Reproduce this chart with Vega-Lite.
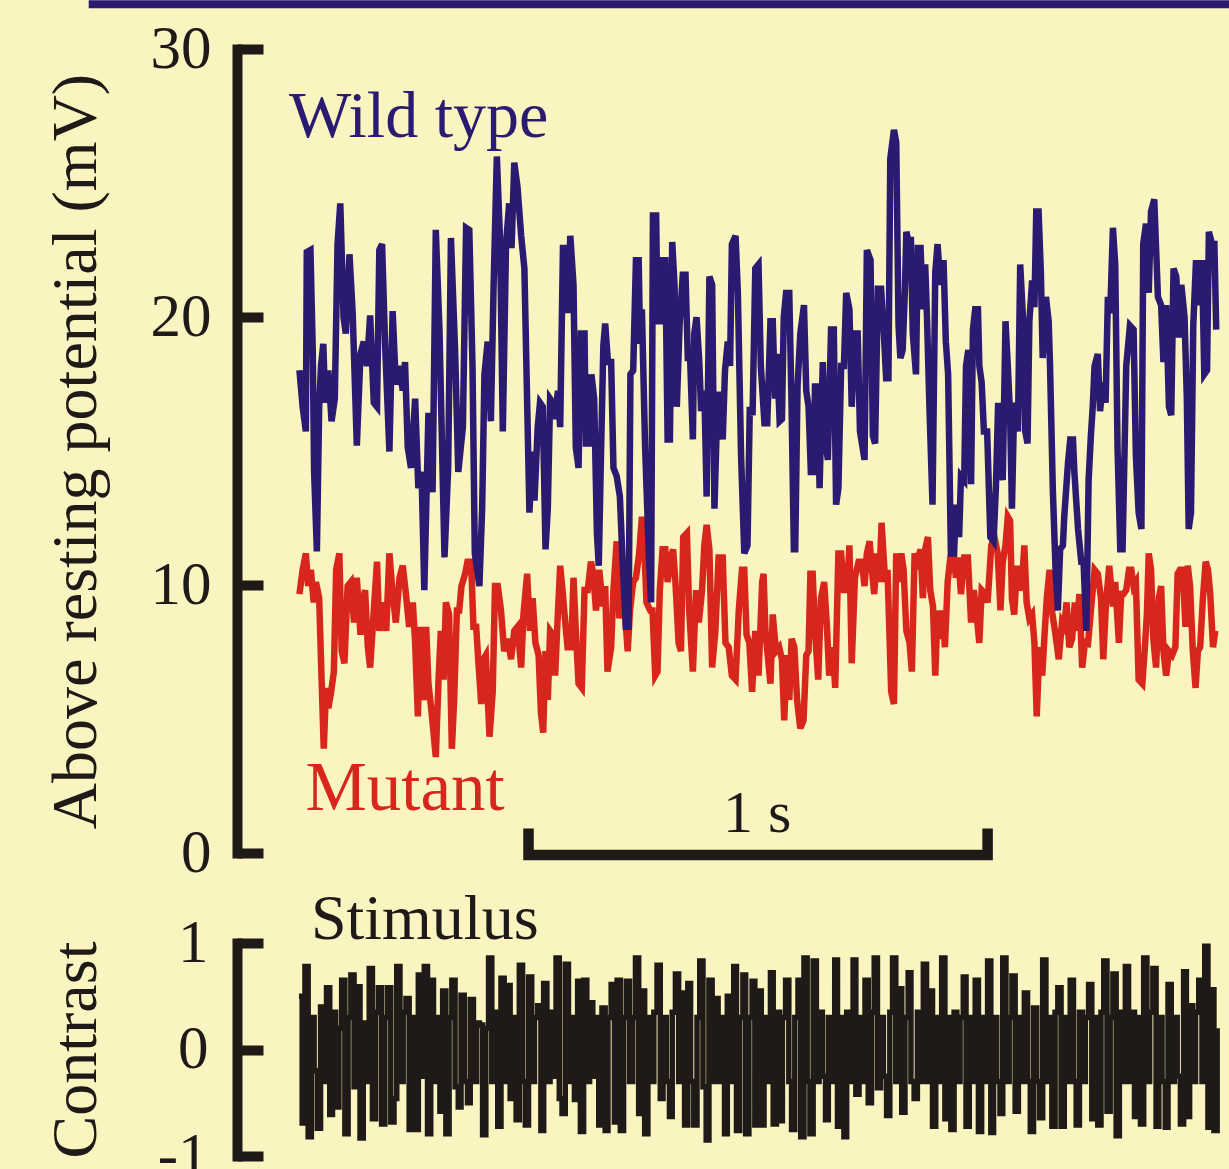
{
  "$schema": "https://vega.github.io/schema/vega-lite/v6.json",
  "background": "#f9f4c0",
  "padding": {"left": 43, "top": 0, "right": 0, "bottom": 0},
  "bounds": "flush",
  "spacing": 90,
  "config": {"view": {"stroke": null}, "font": "Liberation Serif"},
  "resolve": {"scale": {"x": "independent", "y": "independent"}},
  "datasets": {
    "wt": [{"t":1,"v":18.01},{"t":8,"v":16.65},{"t":15,"v":15.73},{"t":17,"v":22.42},{"t":25,"v":22.5},{"t":30,"v":18.77},{"t":33,"v":14.22},{"t":39,"v":11.25},{"t":44,"v":16.65},{"t":48,"v":18.17},{"t":53,"v":19.0},{"t":57,"v":16.8},{"t":64,"v":18.01},{"t":71,"v":16.11},{"t":78,"v":16.95},{"t":84,"v":22.72},{"t":90,"v":24.24},{"t":97,"v":19.99},{"t":102,"v":19.38},{"t":110,"v":22.34},{"t":117,"v":20.14},{"t":126,"v":15.2},{"t":134,"v":18.62},{"t":141,"v":19.08},{"t":148,"v":18.17},{"t":155,"v":20.06},{"t":163,"v":16.8},{"t":170,"v":16.65},{"t":175,"v":22.5},{"t":181,"v":22.72},{"t":188,"v":18.77},{"t":197,"v":14.98},{"t":204,"v":20.22},{"t":211,"v":17.48},{"t":219,"v":18.17},{"t":226,"v":17.25},{"t":231,"v":18.32},{"t":237,"v":15.13},{"t":244,"v":14.37},{"t":253,"v":16.95},{"t":260,"v":13.61},{"t":267,"v":14.22},{"t":273,"v":9.81},{"t":282,"v":16.42},{"t":291,"v":13.46},{"t":298,"v":23.25},{"t":306,"v":19.53},{"t":317,"v":11.03},{"t":325,"v":14.37},{"t":331,"v":22.95},{"t":340,"v":18.77},{"t":347,"v":14.22},{"t":357,"v":15.89},{"t":364,"v":23.33},{"t":371,"v":23.25},{"t":378,"v":18.17},{"t":383,"v":11.18},{"t":393,"v":9.96},{"t":399,"v":12.85},{"t":404,"v":17.86},{"t":411,"v":19.08},{"t":418,"v":16.11},{"t":424,"v":21.2},{"t":431,"v":25.99},{"t":438,"v":22.87},{"t":444,"v":15.73},{"t":451,"v":22.72},{"t":458,"v":24.24},{"t":463,"v":22.57},{"t":469,"v":25.76},{"t":476,"v":24.85},{"t":484,"v":23.03},{"t":491,"v":21.81},{"t":502,"v":12.7},{"t":508,"v":14.98},{"t":513,"v":13.15},{"t":520,"v":15.89},{"t":525,"v":16.8},{"t":531,"v":16.65},{"t":537,"v":11.33},{"t":542,"v":12.85},{"t":547,"v":16.95},{"t":553,"v":16.8},{"t":558,"v":16.19},{"t":564,"v":17.25},{"t":569,"v":15.89},{"t":575,"v":22.57},{"t":582,"v":22.57},{"t":585,"v":20.14},{"t":591,"v":23.03},{"t":598,"v":21.2},{"t":603,"v":15.13},{"t":609,"v":14.37},{"t":614,"v":19.38},{"t":622,"v":19.38},{"t":625,"v":15.28},{"t":632,"v":15.28},{"t":637,"v":17.86},{"t":643,"v":16.95},{"t":649,"v":11.94},{"t":653,"v":10.72},{"t":658,"v":14.98},{"t":663,"v":18.93},{"t":667,"v":19.76},{"t":673,"v":18.32},{"t":680,"v":18.32},{"t":685,"v":14.37},{"t":692,"v":14.06},{"t":699,"v":13.3},{"t":705,"v":10.87},{"t":712,"v":8.44},{"t":718,"v":8.44},{"t":722,"v":17.86},{"t":728,"v":18.01},{"t":734,"v":22.12},{"t":740,"v":22.12},{"t":743,"v":19.0},{"t":747,"v":20.29},{"t":754,"v":15.13},{"t":762,"v":11.18},{"t":767,"v":9.35},{"t":771,"v":23.79},{"t":778,"v":23.79},{"t":781,"v":19.84},{"t":789,"v":19.84},{"t":792,"v":22.12},{"t":798,"v":22.12},{"t":803,"v":15.43},{"t":808,"v":15.43},{"t":813,"v":22.8},{"t":818,"v":21.2},{"t":823,"v":16.65},{"t":829,"v":19.68},{"t":836,"v":21.58},{"t":842,"v":21.58},{"t":847,"v":18.47},{"t":852,"v":18.47},{"t":858,"v":15.43},{"t":861,"v":19.38},{"t":866,"v":19.99},{"t":872,"v":18.32},{"t":876,"v":16.49},{"t":883,"v":17.25},{"t":888,"v":13.3},{"t":894,"v":21.51},{"t":900,"v":21.2},{"t":905,"v":12.85},{"t":912,"v":17.1},{"t":917,"v":17.1},{"t":923,"v":15.43},{"t":928,"v":18.01},{"t":934,"v":19.08},{"t":939,"v":18.17},{"t":943,"v":22.72},{"t":951,"v":23.03},{"t":956,"v":20.9},{"t":963,"v":14.82},{"t":970,"v":11.18},{"t":977,"v":11.48},{"t":982,"v":16.65},{"t":988,"v":16.34},{"t":994,"v":21.81},{"t":1001,"v":21.96},{"t":1006,"v":18.17},{"t":1014,"v":16.04},{"t":1020,"v":16.04},{"t":1027,"v":19.84},{"t":1032,"v":19.84},{"t":1037,"v":16.95},{"t":1041,"v":18.62},{"t":1047,"v":16.11},{"t":1052,"v":16.19},{"t":1056,"v":19.99},{"t":1061,"v":20.9},{"t":1068,"v":20.9},{"t":1073,"v":16.65},{"t":1078,"v":11.33},{"t":1081,"v":11.33},{"t":1086,"v":17.41},{"t":1092,"v":19.38},{"t":1100,"v":20.44},{"t":1105,"v":17.25},{"t":1110,"v":16.65},{"t":1115,"v":14.22},{"t":1121,"v":14.22},{"t":1124,"v":17.41},{"t":1130,"v":17.41},{"t":1134,"v":13.61},{"t":1141,"v":18.32},{"t":1146,"v":15.43},{"t":1152,"v":14.67},{"t":1159,"v":19.53},{"t":1165,"v":19.53},{"t":1170,"v":13.0},{"t":1175,"v":13.61},{"t":1181,"v":18.17},{"t":1187,"v":18.17},{"t":1192,"v":20.9},{"t":1199,"v":20.29},{"t":1204,"v":16.65},{"t":1211,"v":19.38},{"t":1217,"v":19.38},{"t":1222,"v":15.73},{"t":1232,"v":14.67},{"t":1237,"v":22.5},{"t":1245,"v":22.12},{"t":1250,"v":15.58},{"t":1255,"v":15.28},{"t":1261,"v":21.05},{"t":1268,"v":21.05},{"t":1274,"v":19.38},{"t":1279,"v":17.71},{"t":1284,"v":17.71},{"t":1288,"v":25.91},{"t":1296,"v":26.98},{"t":1301,"v":26.52},{"t":1306,"v":19.68},{"t":1310,"v":18.47},{"t":1315,"v":18.77},{"t":1320,"v":21.05},{"t":1323,"v":23.18},{"t":1327,"v":22.87},{"t":1333,"v":22.87},{"t":1337,"v":19.38},{"t":1344,"v":17.86},{"t":1348,"v":22.57},{"t":1354,"v":22.57},{"t":1359,"v":20.29},{"t":1364,"v":21.96},{"t":1368,"v":19.99},{"t":1373,"v":16.8},{"t":1380,"v":13.0},{"t":1386,"v":21.66},{"t":1391,"v":22.72},{"t":1397,"v":21.2},{"t":1404,"v":22.12},{"t":1409,"v":19.08},{"t":1414,"v":17.86},{"t":1420,"v":11.18},{"t":1427,"v":11.18},{"t":1431,"v":13.0},{"t":1438,"v":11.79},{"t":1442,"v":14.06},{"t":1449,"v":13.91},{"t":1453,"v":18.17},{"t":1458,"v":18.77},{"t":1464,"v":13.76},{"t":1468,"v":19.53},{"t":1473,"v":20.29},{"t":1479,"v":20.29},{"t":1482,"v":18.17},{"t":1487,"v":17.56},{"t":1492,"v":15.73},{"t":1499,"v":15.73},{"t":1506,"v":11.79},{"t":1513,"v":11.63},{"t":1518,"v":13.61},{"t":1523,"v":16.8},{"t":1533,"v":13.91},{"t":1539,"v":19.84},{"t":1544,"v":18.17},{"t":1549,"v":16.34},{"t":1553,"v":12.85},{"t":1558,"v":16.8},{"t":1566,"v":15.73},{"t":1571,"v":21.96},{"t":1577,"v":19.99},{"t":1582,"v":15.73},{"t":1587,"v":15.28},{"t":1591,"v":19.84},{"t":1597,"v":21.36},{"t":1602,"v":20.37},{"t":1606,"v":23.94},{"t":1611,"v":23.94},{"t":1616,"v":21.66},{"t":1620,"v":18.47},{"t":1627,"v":20.75},{"t":1633,"v":19.84},{"t":1636,"v":18.17},{"t":1642,"v":13.61},{"t":1648,"v":10.57},{"t":1653,"v":9.05},{"t":1658,"v":11.33},{"t":1664,"v":11.48},{"t":1667,"v":12.55},{"t":1675,"v":14.52},{"t":1680,"v":15.43},{"t":1686,"v":15.43},{"t":1689,"v":14.22},{"t":1697,"v":12.09},{"t":1704,"v":10.87},{"t":1709,"v":10.87},{"t":1715,"v":8.29},{"t":1720,"v":13.91},{"t":1725,"v":15.58},{"t":1729,"v":16.65},{"t":1733,"v":18.17},{"t":1740,"v":18.62},{"t":1745,"v":16.49},{"t":1751,"v":17.56},{"t":1757,"v":16.8},{"t":1762,"v":20.75},{"t":1767,"v":20.14},{"t":1773,"v":23.33},{"t":1778,"v":21.96},{"t":1783,"v":15.13},{"t":1789,"v":11.33},{"t":1794,"v":11.33},{"t":1802,"v":18.17},{"t":1810,"v":19.68},{"t":1818,"v":19.53},{"t":1823,"v":14.82},{"t":1829,"v":12.7},{"t":1835,"v":12.09},{"t":1839,"v":22.72},{"t":1845,"v":23.48},{"t":1851,"v":20.9},{"t":1856,"v":23.94},{"t":1863,"v":24.39},{"t":1871,"v":20.75},{"t":1878,"v":20.44},{"t":1883,"v":18.32},{"t":1889,"v":20.44},{"t":1895,"v":16.65},{"t":1900,"v":16.34},{"t":1905,"v":21.81},{"t":1911,"v":21.51},{"t":1917,"v":19.23},{"t":1922,"v":21.2},{"t":1929,"v":19.99},{"t":1934,"v":16.95},{"t":1938,"v":12.09},{"t":1943,"v":12.7},{"t":1948,"v":19.68},{"t":1954,"v":22.12},{"t":1961,"v":20.44},{"t":1967,"v":22.12},{"t":1972,"v":17.86},{"t":1978,"v":18.01},{"t":1982,"v":23.18},{"t":1989,"v":22.72},{"t":1994,"v":22.72},{"t":1998,"v":19.53}],
    "mut": [{"t":1,"v":9.66},{"t":8,"v":10.57},{"t":15,"v":11.18},{"t":20,"v":9.96},{"t":26,"v":10.57},{"t":32,"v":9.35},{"t":37,"v":10.11},{"t":44,"v":9.51},{"t":49,"v":6.62},{"t":54,"v":3.89},{"t":59,"v":6.16},{"t":64,"v":5.4},{"t":70,"v":6.01},{"t":76,"v":6.77},{"t":81,"v":10.57},{"t":88,"v":11.18},{"t":93,"v":7.53},{"t":99,"v":7.08},{"t":106,"v":9.96},{"t":113,"v":10.11},{"t":120,"v":8.6},{"t":126,"v":10.27},{"t":134,"v":8.14},{"t":139,"v":9.35},{"t":144,"v":9.81},{"t":150,"v":7.68},{"t":155,"v":6.92},{"t":163,"v":9.05},{"t":170,"v":10.87},{"t":175,"v":8.29},{"t":182,"v":9.35},{"t":190,"v":8.29},{"t":197,"v":11.18},{"t":204,"v":9.66},{"t":211,"v":8.6},{"t":219,"v":10.27},{"t":226,"v":10.72},{"t":233,"v":9.66},{"t":240,"v":8.44},{"t":248,"v":9.35},{"t":253,"v":7.84},{"t":259,"v":5.1},{"t":264,"v":8.44},{"t":272,"v":5.71},{"t":277,"v":8.44},{"t":282,"v":6.32},{"t":288,"v":5.4},{"t":293,"v":4.49},{"t":298,"v":3.58},{"t":304,"v":6.47},{"t":309,"v":8.29},{"t":315,"v":6.47},{"t":320,"v":9.35},{"t":327,"v":8.9},{"t":333,"v":3.89},{"t":338,"v":5.71},{"t":344,"v":9.05},{"t":349,"v":9.05},{"t":354,"v":9.96},{"t":362,"v":10.42},{"t":367,"v":10.87},{"t":375,"v":10.87},{"t":380,"v":8.44},{"t":386,"v":8.44},{"t":391,"v":7.08},{"t":397,"v":5.56},{"t":402,"v":7.23},{"t":407,"v":7.38},{"t":415,"v":4.34},{"t":422,"v":6.01},{"t":427,"v":9.96},{"t":433,"v":9.96},{"t":440,"v":9.05},{"t":447,"v":7.53},{"t":455,"v":7.99},{"t":462,"v":7.23},{"t":469,"v":8.29},{"t":476,"v":8.44},{"t":484,"v":6.92},{"t":489,"v":8.9},{"t":497,"v":10.42},{"t":503,"v":8.29},{"t":509,"v":9.51},{"t":515,"v":7.84},{"t":522,"v":7.38},{"t":527,"v":5.25},{"t":532,"v":4.49},{"t":537,"v":7.53},{"t":542,"v":5.71},{"t":547,"v":8.29},{"t":553,"v":8.14},{"t":558,"v":6.62},{"t":563,"v":8.6},{"t":569,"v":10.72},{"t":574,"v":9.81},{"t":580,"v":8.6},{"t":585,"v":7.68},{"t":593,"v":7.68},{"t":598,"v":10.27},{"t":603,"v":8.29},{"t":609,"v":6.32},{"t":616,"v":6.16},{"t":622,"v":9.81},{"t":629,"v":9.81},{"t":636,"v":10.87},{"t":641,"v":10.42},{"t":647,"v":9.05},{"t":654,"v":10.57},{"t":662,"v":9.2},{"t":667,"v":9.96},{"t":672,"v":6.77},{"t":680,"v":7.68},{"t":685,"v":9.81},{"t":692,"v":11.63},{"t":698,"v":8.75},{"t":704,"v":10.57},{"t":711,"v":8.75},{"t":716,"v":7.53},{"t":721,"v":9.05},{"t":728,"v":10.11},{"t":734,"v":10.27},{"t":741,"v":11.18},{"t":747,"v":12.55},{"t":752,"v":11.48},{"t":757,"v":9.35},{"t":765,"v":9.05},{"t":770,"v":9.05},{"t":776,"v":6.62},{"t":781,"v":6.77},{"t":786,"v":9.81},{"t":792,"v":11.33},{"t":798,"v":11.33},{"t":803,"v":10.11},{"t":810,"v":11.03},{"t":815,"v":11.33},{"t":820,"v":10.11},{"t":827,"v":7.84},{"t":832,"v":7.53},{"t":837,"v":11.79},{"t":845,"v":11.94},{"t":850,"v":9.05},{"t":858,"v":6.77},{"t":865,"v":9.81},{"t":871,"v":8.6},{"t":878,"v":9.81},{"t":883,"v":11.48},{"t":888,"v":12.24},{"t":894,"v":11.33},{"t":900,"v":6.92},{"t":907,"v":8.29},{"t":914,"v":11.03},{"t":923,"v":11.03},{"t":929,"v":7.84},{"t":936,"v":7.68},{"t":943,"v":6.62},{"t":951,"v":6.47},{"t":958,"v":9.05},{"t":965,"v":10.57},{"t":970,"v":10.57},{"t":975,"v":8.14},{"t":981,"v":7.84},{"t":987,"v":6.01},{"t":994,"v":8.29},{"t":1001,"v":6.62},{"t":1009,"v":10.11},{"t":1012,"v":10.42},{"t":1016,"v":8.29},{"t":1021,"v":7.38},{"t":1027,"v":6.32},{"t":1032,"v":8.9},{"t":1039,"v":7.53},{"t":1046,"v":7.68},{"t":1052,"v":7.23},{"t":1057,"v":4.95},{"t":1063,"v":7.38},{"t":1068,"v":5.71},{"t":1073,"v":7.99},{"t":1079,"v":7.68},{"t":1085,"v":5.71},{"t":1092,"v":4.65},{"t":1099,"v":4.95},{"t":1105,"v":7.38},{"t":1110,"v":7.53},{"t":1114,"v":10.42},{"t":1119,"v":10.42},{"t":1124,"v":8.29},{"t":1131,"v":6.47},{"t":1137,"v":9.51},{"t":1144,"v":10.11},{"t":1150,"v":8.44},{"t":1155,"v":6.62},{"t":1163,"v":7.68},{"t":1168,"v":6.16},{"t":1175,"v":11.18},{"t":1181,"v":11.18},{"t":1187,"v":9.81},{"t":1194,"v":9.81},{"t":1199,"v":11.48},{"t":1204,"v":7.08},{"t":1211,"v":10.27},{"t":1219,"v":10.87},{"t":1226,"v":10.87},{"t":1232,"v":9.96},{"t":1237,"v":11.18},{"t":1243,"v":11.63},{"t":1248,"v":10.57},{"t":1253,"v":9.66},{"t":1259,"v":11.18},{"t":1264,"v":10.11},{"t":1269,"v":12.32},{"t":1277,"v":10.11},{"t":1282,"v":10.57},{"t":1290,"v":6.01},{"t":1296,"v":5.56},{"t":1301,"v":11.18},{"t":1306,"v":10.11},{"t":1312,"v":11.18},{"t":1317,"v":10.57},{"t":1323,"v":8.29},{"t":1330,"v":7.84},{"t":1335,"v":6.77},{"t":1341,"v":11.18},{"t":1346,"v":10.87},{"t":1354,"v":11.33},{"t":1359,"v":9.51},{"t":1364,"v":11.33},{"t":1370,"v":11.79},{"t":1375,"v":9.81},{"t":1381,"v":9.2},{"t":1386,"v":6.62},{"t":1391,"v":9.05},{"t":1397,"v":7.99},{"t":1402,"v":9.05},{"t":1407,"v":7.68},{"t":1413,"v":10.11},{"t":1419,"v":11.03},{"t":1426,"v":11.18},{"t":1431,"v":10.27},{"t":1436,"v":11.03},{"t":1442,"v":9.66},{"t":1449,"v":11.03},{"t":1457,"v":11.03},{"t":1464,"v":8.6},{"t":1470,"v":9.81},{"t":1475,"v":9.05},{"t":1482,"v":7.84},{"t":1487,"v":9.81},{"t":1495,"v":9.66},{"t":1500,"v":9.35},{"t":1508,"v":11.48},{"t":1515,"v":11.79},{"t":1522,"v":11.18},{"t":1528,"v":9.05},{"t":1533,"v":10.87},{"t":1539,"v":11.48},{"t":1544,"v":12.55},{"t":1549,"v":12.4},{"t":1553,"v":9.51},{"t":1558,"v":8.9},{"t":1564,"v":10.72},{"t":1569,"v":9.81},{"t":1575,"v":10.11},{"t":1580,"v":11.48},{"t":1585,"v":9.35},{"t":1591,"v":8.75},{"t":1597,"v":8.9},{"t":1602,"v":7.84},{"t":1607,"v":5.1},{"t":1613,"v":7.68},{"t":1619,"v":6.62},{"t":1624,"v":8.14},{"t":1629,"v":9.51},{"t":1635,"v":10.57},{"t":1640,"v":9.05},{"t":1648,"v":8.14},{"t":1655,"v":7.23},{"t":1662,"v":8.6},{"t":1667,"v":8.44},{"t":1672,"v":9.35},{"t":1678,"v":7.68},{"t":1684,"v":7.99},{"t":1690,"v":9.35},{"t":1694,"v":8.29},{"t":1700,"v":9.66},{"t":1706,"v":6.92},{"t":1713,"v":7.99},{"t":1718,"v":7.68},{"t":1725,"v":9.05},{"t":1733,"v":10.57},{"t":1740,"v":10.42},{"t":1747,"v":9.51},{"t":1752,"v":7.23},{"t":1758,"v":9.35},{"t":1765,"v":10.72},{"t":1773,"v":9.2},{"t":1778,"v":10.11},{"t":1786,"v":7.84},{"t":1791,"v":9.66},{"t":1796,"v":9.66},{"t":1802,"v":9.81},{"t":1808,"v":10.57},{"t":1813,"v":10.57},{"t":1818,"v":9.96},{"t":1823,"v":10.11},{"t":1829,"v":6.47},{"t":1837,"v":6.32},{"t":1842,"v":7.53},{"t":1847,"v":8.9},{"t":1851,"v":11.18},{"t":1856,"v":10.57},{"t":1861,"v":7.99},{"t":1867,"v":6.92},{"t":1873,"v":9.51},{"t":1878,"v":9.96},{"t":1883,"v":7.53},{"t":1889,"v":6.62},{"t":1895,"v":7.53},{"t":1902,"v":7.38},{"t":1909,"v":7.68},{"t":1914,"v":10.42},{"t":1919,"v":10.57},{"t":1925,"v":10.57},{"t":1931,"v":8.44},{"t":1936,"v":10.72},{"t":1941,"v":9.96},{"t":1947,"v":7.53},{"t":1953,"v":6.16},{"t":1958,"v":7.53},{"t":1963,"v":7.68},{"t":1969,"v":9.51},{"t":1975,"v":10.87},{"t":1980,"v":10.57},{"t":1985,"v":9.66},{"t":1991,"v":7.68},{"t":1996,"v":8.29}],
    "stim": [{"t":0,"v":0.5},{"t":7,"v":-0.69},{"t":13,"v":0.78},{"t":20,"v":-0.82},{"t":27,"v":0.3},{"t":33,"v":-0.2},{"t":40,"v":-0.74},{"t":47,"v":0.4},{"t":53,"v":-0.3},{"t":60,"v":0.58},{"t":67,"v":-0.61},{"t":73,"v":0.35},{"t":80,"v":-0.54},{"t":87,"v":0.2},{"t":93,"v":0.65},{"t":100,"v":-0.79},{"t":107,"v":0.3},{"t":113,"v":0.7},{"t":120,"v":-0.35},{"t":127,"v":0.59},{"t":133,"v":-0.83},{"t":140,"v":0.25},{"t":147,"v":-0.3},{"t":153,"v":0.76},{"t":160,"v":-0.65},{"t":167,"v":0.35},{"t":173,"v":0.58},{"t":180,"v":-0.7},{"t":187,"v":0.3},{"t":193,"v":0.58},{"t":200,"v":-0.68},{"t":207,"v":-0.46},{"t":213,"v":0.78},{"t":220,"v":-0.3},{"t":227,"v":0.35},{"t":233,"v":0.48},{"t":240,"v":-0.75},{"t":247,"v":0.3},{"t":253,"v":-0.75},{"t":260,"v":0.7},{"t":267,"v":-0.25},{"t":273,"v":0.78},{"t":280,"v":-0.79},{"t":287,"v":0.65},{"t":293,"v":-0.3},{"t":300,"v":0.3},{"t":307,"v":-0.58},{"t":313,"v":0.55},{"t":320,"v":-0.79},{"t":327,"v":0.3},{"t":333,"v":0.65},{"t":340,"v":-0.35},{"t":347,"v":-0.54},{"t":353,"v":0.51},{"t":360,"v":-0.3},{"t":367,"v":-0.5},{"t":373,"v":0.47},{"t":380,"v":-0.3},{"t":387,"v":0.25},{"t":393,"v":0.23},{"t":400,"v":-0.8},{"t":407,"v":0.2},{"t":413,"v":0.86},{"t":420,"v":-0.3},{"t":427,"v":0.35},{"t":433,"v":-0.72},{"t":440,"v":0.67},{"t":447,"v":-0.3},{"t":453,"v":0.6},{"t":460,"v":-0.46},{"t":467,"v":0.3},{"t":473,"v":-0.66},{"t":480,"v":0.79},{"t":487,"v":-0.3},{"t":493,"v":-0.71},{"t":500,"v":0.68},{"t":507,"v":-0.3},{"t":513,"v":0.3},{"t":520,"v":0.41},{"t":527,"v":-0.76},{"t":533,"v":0.62},{"t":540,"v":-0.3},{"t":547,"v":0.35},{"t":553,"v":-0.25},{"t":560,"v":0.86},{"t":567,"v":-0.46},{"t":573,"v":-0.6},{"t":580,"v":0.8},{"t":587,"v":-0.3},{"t":593,"v":0.3},{"t":600,"v":-0.47},{"t":607,"v":0.64},{"t":613,"v":-0.77},{"t":620,"v":0.65},{"t":627,"v":-0.3},{"t":633,"v":0.44},{"t":640,"v":-0.25},{"t":647,"v":0.3},{"t":653,"v":-0.71},{"t":660,"v":0.39},{"t":667,"v":-0.76},{"t":673,"v":0.3},{"t":680,"v":0.61},{"t":687,"v":-0.68},{"t":693,"v":0.65},{"t":700,"v":-0.76},{"t":707,"v":0.3},{"t":713,"v":0.64},{"t":720,"v":-0.3},{"t":727,"v":0.3},{"t":733,"v":0.86},{"t":740,"v":-0.6},{"t":747,"v":0.55},{"t":753,"v":-0.79},{"t":760,"v":0.3},{"t":767,"v":-0.3},{"t":773,"v":0.35},{"t":780,"v":0.79},{"t":787,"v":-0.46},{"t":793,"v":0.3},{"t":800,"v":-0.3},{"t":807,"v":-0.63},{"t":813,"v":0.35},{"t":820,"v":0.71},{"t":827,"v":-0.3},{"t":833,"v":0.53},{"t":840,"v":-0.71},{"t":847,"v":0.62},{"t":853,"v":-0.3},{"t":860,"v":-0.71},{"t":867,"v":0.3},{"t":873,"v":0.83},{"t":880,"v":-0.35},{"t":887,"v":-0.85},{"t":893,"v":0.65},{"t":900,"v":-0.3},{"t":907,"v":0.48},{"t":913,"v":-0.3},{"t":920,"v":0.3},{"t":927,"v":-0.79},{"t":933,"v":0.5},{"t":940,"v":-0.3},{"t":947,"v":0.78},{"t":953,"v":-0.76},{"t":960,"v":0.3},{"t":967,"v":0.7},{"t":973,"v":-0.79},{"t":980,"v":0.3},{"t":987,"v":0.64},{"t":993,"v":-0.71},{"t":1000,"v":0.55},{"t":1007,"v":-0.71},{"t":1013,"v":0.3},{"t":1020,"v":-0.3},{"t":1027,"v":0.72},{"t":1033,"v":-0.7},{"t":1040,"v":0.35},{"t":1047,"v":-0.67},{"t":1053,"v":0.3},{"t":1060,"v":0.65},{"t":1067,"v":-0.3},{"t":1073,"v":-0.75},{"t":1080,"v":0.3},{"t":1087,"v":0.65},{"t":1093,"v":-0.82},{"t":1100,"v":0.86},{"t":1107,"v":-0.3},{"t":1113,"v":-0.79},{"t":1120,"v":0.83},{"t":1127,"v":-0.3},{"t":1133,"v":0.35},{"t":1140,"v":-0.25},{"t":1147,"v":-0.66},{"t":1153,"v":0.3},{"t":1160,"v":-0.3},{"t":1167,"v":0.84},{"t":1173,"v":-0.72},{"t":1180,"v":0.3},{"t":1187,"v":-0.82},{"t":1193,"v":0.35},{"t":1200,"v":-0.3},{"t":1207,"v":0.84},{"t":1213,"v":-0.42},{"t":1220,"v":0.3},{"t":1227,"v":-0.3},{"t":1233,"v":0.65},{"t":1240,"v":-0.5},{"t":1247,"v":0.35},{"t":1253,"v":0.86},{"t":1260,"v":-0.36},{"t":1267,"v":0.3},{"t":1273,"v":-0.25},{"t":1280,"v":-0.62},{"t":1287,"v":0.35},{"t":1293,"v":0.86},{"t":1300,"v":-0.3},{"t":1307,"v":0.57},{"t":1313,"v":-0.59},{"t":1320,"v":0.3},{"t":1327,"v":0.72},{"t":1333,"v":-0.3},{"t":1340,"v":-0.46},{"t":1347,"v":0.35},{"t":1353,"v":-0.3},{"t":1360,"v":0.8},{"t":1367,"v":-0.3},{"t":1373,"v":0.55},{"t":1380,"v":-0.72},{"t":1387,"v":0.3},{"t":1393,"v":-0.3},{"t":1400,"v":0.86},{"t":1407,"v":-0.65},{"t":1413,"v":0.3},{"t":1420,"v":-0.75},{"t":1427,"v":0.35},{"t":1433,"v":-0.3},{"t":1440,"v":0.3},{"t":1447,"v":0.68},{"t":1453,"v":-0.72},{"t":1460,"v":0.3},{"t":1467,"v":-0.3},{"t":1473,"v":0.65},{"t":1480,"v":-0.77},{"t":1487,"v":0.3},{"t":1493,"v":-0.3},{"t":1500,"v":0.83},{"t":1507,"v":-0.78},{"t":1513,"v":0.3},{"t":1520,"v":-0.3},{"t":1527,"v":-0.6},{"t":1533,"v":0.86},{"t":1540,"v":-0.3},{"t":1547,"v":0.3},{"t":1553,"v":0.69},{"t":1560,"v":-0.58},{"t":1567,"v":0.3},{"t":1573,"v":-0.3},{"t":1580,"v":0.53},{"t":1587,"v":-0.3},{"t":1593,"v":-0.77},{"t":1600,"v":0.39},{"t":1607,"v":-0.3},{"t":1613,"v":-0.64},{"t":1620,"v":0.84},{"t":1627,"v":-0.3},{"t":1633,"v":0.3},{"t":1640,"v":-0.72},{"t":1647,"v":0.35},{"t":1653,"v":0.58},{"t":1660,"v":-0.72},{"t":1667,"v":0.3},{"t":1673,"v":-0.3},{"t":1680,"v":0.65},{"t":1687,"v":-0.3},{"t":1693,"v":-0.71},{"t":1700,"v":0.35},{"t":1707,"v":-0.3},{"t":1713,"v":0.3},{"t":1720,"v":0.61},{"t":1727,"v":-0.65},{"t":1733,"v":0.3},{"t":1740,"v":-0.71},{"t":1747,"v":0.35},{"t":1753,"v":0.83},{"t":1760,"v":-0.58},{"t":1767,"v":0.3},{"t":1773,"v":0.71},{"t":1780,"v":-0.81},{"t":1787,"v":0.35},{"t":1793,"v":-0.3},{"t":1800,"v":0.78},{"t":1807,"v":-0.3},{"t":1813,"v":0.35},{"t":1820,"v":-0.63},{"t":1827,"v":0.3},{"t":1833,"v":-0.7},{"t":1840,"v":0.86},{"t":1847,"v":-0.3},{"t":1853,"v":0.35},{"t":1860,"v":0.76},{"t":1867,"v":-0.72},{"t":1873,"v":0.3},{"t":1880,"v":-0.3},{"t":1887,"v":-0.73},{"t":1893,"v":0.61},{"t":1900,"v":-0.3},{"t":1907,"v":0.3},{"t":1913,"v":-0.25},{"t":1920,"v":-0.7},{"t":1927,"v":0.73},{"t":1933,"v":-0.63},{"t":1940,"v":0.41},{"t":1947,"v":-0.3},{"t":1953,"v":0.35},{"t":1960,"v":0.65},{"t":1967,"v":-0.3},{"t":1973,"v":0.97},{"t":1980,"v":-0.73},{"t":1987,"v":0.56},{"t":1993,"v":-0.76},{"t":2000,"v":0.2}]
  },
  "vconcat": [
    {
      "width": 993,
      "height": 804,
      "encoding": {
        "x": {"field": "t", "type": "quantitative", "scale": {"domain": [-135, 2028], "nice": false, "zero": false}, "axis": null},
        "y": {"field": "v", "type": "quantitative", "scale": {"domain": [0, 30], "nice": false, "zero": false},
          "axis": {"values": [0, 10, 20, 30], "format": "d", "grid": false, "domainWidth": 10, "domainColor": "#1f1a17", "domainCap": "square",
            "tickWidth": 10, "tickSize": -26, "tickColor": "#1f1a17", "labelFont": "Liberation Serif", "labelFontSize": 61,
            "labelColor": "#1f1a17", "labelPadding": 52, "title": "Above resting potential (mV)", "titleFont": "Liberation Serif",
            "titleFontSize": 64, "titleFontWeight": "normal", "titleColor": "#1f1a17", "titleX": -142, "titleBaseline": "alphabetic"}}
      },
      "layer": [
        {"data": {"name": "mut"}, "mark": {"type": "line", "color": "#d9261c", "strokeWidth": 6.5, "strokeJoin": "miter"}},
        {"data": {"name": "wt"}, "mark": {"type": "line", "color": "#2a1a72", "strokeWidth": 6.5, "strokeJoin": "miter"}},
        {"data": {"values": [{"t": -458, "t2": 2040, "v": 31.67}]}, "mark": {"type": "rule", "color": "#2b1a72", "strokeWidth": 8}, "encoding": {"x2": {"field": "t2"}}},
        {"data": {"values": [{"t": 500, "v": 0.91, "k": 1}, {"t": 500, "v": -0.075, "k": 2}, {"t": 1500, "v": -0.075, "k": 3}, {"t": 1500, "v": 0.91, "k": 4}]},
          "mark": {"type": "line", "color": "#1f1a17", "strokeWidth": 10.5, "strokeCap": "butt", "strokeJoin": "miter"},
          "encoding": {"order": {"field": "k", "type": "quantitative"}}},
        {"data": {"values": [{"t": -22, "v": 26.7, "s": "Wild type"}]}, "mark": {"type": "text", "align": "left", "baseline": "alphabetic", "font": "Liberation Serif", "fontSize": 66, "color": "#2a1a72"}, "encoding": {"text": {"field": "s"}}},
        {"data": {"values": [{"t": 14, "v": 1.59, "s": "Mutant"}]}, "mark": {"type": "text", "align": "left", "baseline": "alphabetic", "font": "Liberation Serif", "fontSize": 69, "color": "#d9261c"}, "encoding": {"text": {"field": "s"}}},
        {"data": {"values": [{"t": 998, "v": 0.78, "s": "1 s"}]}, "mark": {"type": "text", "align": "center", "baseline": "alphabetic", "font": "Liberation Serif", "fontSize": 60, "color": "#1f1a17"}, "encoding": {"text": {"field": "s"}}}
      ]
    },
    {
      "width": 993,
      "height": 213,
      "encoding": {
        "x": {"field": "t", "type": "quantitative", "scale": {"domain": [-135, 2028], "nice": false, "zero": false}, "axis": null},
        "y": {"field": "v", "type": "quantitative", "scale": {"domain": [-1, 1], "nice": false, "zero": false},
          "axis": {"values": [-1, 0, 1], "grid": false, "labelOverlap": false, "domainWidth": 10, "domainColor": "#1f1a17", "domainCap": "square",
            "tickWidth": 10, "tickSize": -26, "tickColor": "#1f1a17", "labelFont": "Liberation Serif", "labelFontSize": 61,
            "labelColor": "#1f1a17", "labelPadding": 55,
            "labelExpr": "datum.value > 0.5 ? '1' : (datum.value < -0.5 ? '-1' : '0')",
            "title": "Contrast", "titleFont": "Liberation Serif",
            "titleFontSize": 64, "titleFontWeight": "normal", "titleColor": "#1f1a17", "titleX": -142, "titleBaseline": "alphabetic"}}
      },
      "layer": [
        {"data": {"name": "stim"}, "mark": {"type": "line", "color": "#1f1a17", "strokeWidth": 5.5, "interpolate": "step-after"}},
        {"data": {"values": [{"t": 26, "v": 1.033, "s": "Stimulus"}]}, "mark": {"type": "text", "align": "left", "baseline": "alphabetic", "font": "Liberation Serif", "fontSize": 64, "color": "#1f1a17"}, "encoding": {"text": {"field": "s"}}}
      ]
    }
  ]
}
